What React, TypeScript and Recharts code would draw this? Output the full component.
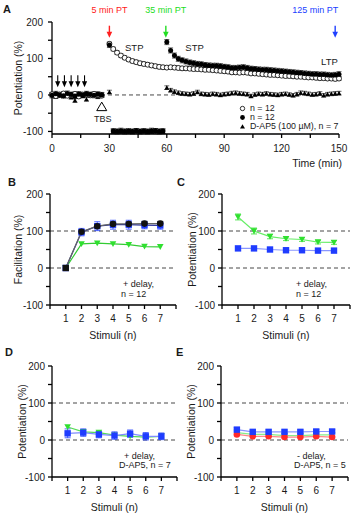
import React from 'react';
import {
  ComposedChart,
  Scatter,
  Line,
  XAxis,
  YAxis,
  ReferenceLine,
  ReferenceDot,
  ErrorBar,
  Legend,
} from 'recharts';

const FONT = '"Liberation Sans", Arial, Helvetica, sans-serif';
const INK = '#1a1a1a';

// ---------- Panel A: time course (min), one sweep every 2 min ----------
const baseTimes = [0, 2, 4, 6, 8, 10, 12, 14, 16, 18, 20, 22, 24, 26];
const postTimes = [
  30, 32, 34, 36, 38, 40, 42, 44, 46, 48, 50, 52, 54, 56, 58, 60, 62, 64, 66, 68,
  70, 72, 74, 76, 78, 80, 82, 84, 86, 88, 90, 92, 94, 96, 98, 100, 102, 104, 106, 108,
  110, 112, 114, 116, 118, 120, 122, 124, 126, 128, 130, 132, 134, 136, 138, 140, 142, 144, 146, 148,
  150,
];
const offTimes = [32, 34, 36, 38, 40, 42, 44, 46, 48, 50, 52, 54, 56, 58];
const lateTimes = [
  60, 62, 64, 66, 68, 70, 72, 74, 76, 78, 80, 82, 84, 86, 88, 90, 92, 94, 96, 98,
  100, 102, 104, 106, 108, 110, 112, 114, 116, 118, 120, 122, 124, 126, 128, 130, 132, 134, 136, 138,
  140, 142, 144, 146, 148, 150,
];

// open circles, n = 12
const openBase = [2, -3, 1, 4, -2, 0, 3, -4, 1, 2, -1, 3, 0, -2];
const openPost = [
  140, 126, 116, 108, 102, 97, 93, 90, 87, 85, 83, 81, 79, 77, 76, 75, 76, 75, 74, 73,
  73, 72, 71, 71, 70, 69, 69, 68, 67, 66, 65, 64, 62, 62, 61, 62, 61, 59, 59, 58,
  57, 56, 55, 55, 54, 53, 52, 52, 51, 50, 50, 49, 48, 48, 47, 46, 46, 45, 45, 44,
  45,
];
// filled circles, n = 12 (not stimulated during the delay)
const filledBase = [-1, 3, 0, -2, 4, 1, -3, 2, 0, 3, 1, -1, 2, 0];
const filledAt30 = 137;
const filledOff = [-99, -100, -98, -100, -99, -100, -99, -100, -99, -100, -98, -99, -100, -99];
const filledLate = [
  145, 122, 108, 99, 95, 92, 89, 87, 85, 84, 82, 81, 80, 80, 79, 77, 76, 74, 74, 75,
  76, 74, 72, 71, 70, 69, 69, 68, 67, 66, 65, 64, 63, 62, 61, 60, 59, 58, 57, 57,
  56, 56, 55, 54, 55, 57,
];
// D-AP5 (100 uM), n = 7
const ap5Base = [0, -4, 2, -2, 1, -6, -15, 3, -3, -12, 0, 2, -5, 1];
const ap5At30 = 8;
const ap5Off = [-100, -99, -100, -99, -100, -100, -97, -100, -99, -100, -100, -97, -99, -100];
const ap5Late = [
  20, 13, 9, 6, 4, 3, 2, 4, 8, 3, 2, 1, 3, 2, 0, 2, 3, 5, 6, 4,
  3, 2, -3, 1, 3, 2, 4, 2, 1, 0, 2, 3, 1, -1, 2, 6, 5, 3, 1, 2,
  4, -1, 2, 3, 4, 5,
];
const OPEN_SEM = 5;
const FILLED_SEM = 7;
const AP5_SEM = 5;

const stimArrowTimes = [3, 6.5, 10, 13.5, 17];
const ptTimes = [30, 59.5, 148];
const ptLabels = ['5 min PT', '35 min PT', '125 min PT'];
const ptColors = ['#ff2020', '#22dd22', '#2040ff'];
const legendLabels = ['n = 12', 'n = 12', 'D-AP5 (100 \u00b5M), n = 7'];

// ---------- Panels B-E: stimulus number ----------
const stimuli = [1, 2, 3, 4, 5, 6, 7];

const bGreen = [0, 65, 67, 65, 63, 58, 57];
const bBlue = [0, 97, 113, 117, 117, 116, 115];
const bBlueErr = [0, 10, 12, 12, 12, 10, 10];
const bBlack = [0, 98, 113, 119, 119, 120, 120];
const bBlackErr = [0, 6, 6, 6, 6, 6, 6];

const cGreen = [138, 100, 85, 79, 77, 70, 69];
const cGreenErr = [8, 8, 6, 5, 5, 5, 5];
const cBlue = [53, 53, 50, 48, 48, 47, 47];

const dGreen = [35, 22, 20, 13, 10, 8, 10];
const dBlue = [18, 20, 15, 12, 17, 10, 10];
const dBlueErr = [12, 10, 9, 10, 10, 10, 9];

const eBlue = [28, 22, 22, 22, 22, 23, 23];
const eBlueErr = [6, 5, 5, 5, 5, 5, 5];
const eGreen = [20, 15, 15, 12, 12, 14, 14];
const eRed = [15, 10, 10, 8, 8, 10, 8];

const yTicks = [-100, -50, 0, 50, 100, 150, 200];
const timeTicks = [0, 15, 30, 45, 60, 75, 90, 105, 120, 135, 150];
const stimTicks = [0, 1, 2, 3, 4, 5, 6, 7, 8];

const GREEN = '#2fe02f';
const BLUE = '#1f3cff';
const RED = '#ff2a2a';

const tickStyle = { fontSize: 10, fill: INK, fontFamily: FONT };
const axisLine = { stroke: '#000', strokeWidth: 1.3 };

const pts = (times: number[], vals: number[], sem: number) =>
  times.map((t, i) => ({ t, v: vals[i], e: sem }));

const openData = [...pts(baseTimes, openBase, OPEN_SEM), ...pts(postTimes, openPost, OPEN_SEM)];
const filledData = [
  ...pts(baseTimes, filledBase, FILLED_SEM),
  { t: 30, v: filledAt30, e: FILLED_SEM },
  ...pts(offTimes, filledOff, FILLED_SEM),
  ...pts(lateTimes, filledLate, FILLED_SEM),
];
const ap5Data = [
  ...pts(baseTimes, ap5Base, AP5_SEM),
  { t: 30, v: ap5At30, e: AP5_SEM },
  ...pts(offTimes, ap5Off, AP5_SEM),
  ...pts(lateTimes, ap5Late, AP5_SEM),
];

const hundreds = (v: number) => (v % 100 === 0 ? String(v) : '');

const yTitle = (text: string, dx: number) => (props: any) => {
  const vb = props.viewBox;
  const x = vb.x + vb.width - dx;
  const y = vb.y + vb.height / 2;
  return (
    <text x={x} y={y} transform={`rotate(-90 ${x} ${y})`} textAnchor="middle"
      dominantBaseline="central" fontSize={10.5} fill={INK} fontFamily={FONT}>
      {text}
    </text>
  );
};

const xTitle = (text: string, dy: number, anchor: 'middle' | 'end') => (props: any) => {
  const vb = props.viewBox;
  const x = anchor === 'end' ? vb.x + vb.width + 3 : vb.x + vb.width / 2;
  return (
    <text x={x} y={vb.y + dy} textAnchor={anchor} dominantBaseline="central"
      fontSize={10.5} fill={INK} fontFamily={FONT}>
      {text}
    </text>
  );
};

const openCircle = (p: any) => (
  <circle cx={p.cx} cy={p.cy} r={2.5} fill="#fff" stroke="#000" strokeWidth={0.8} />
);
const filledCircle = (p: any) => <circle cx={p.cx} cy={p.cy} r={2.5} fill="#000" />;
const triUp = (p: any) => (
  <path d={`M${p.cx - 2.4},${p.cy + 2}L${p.cx + 2.4},${p.cy + 2}L${p.cx},${p.cy - 2.4}Z`} fill="#000" />
);

const blackArrow = (p: any) => (
  <g>
    <line x1={p.cx} y1={p.cy - 12} x2={p.cx} y2={p.cy - 5} stroke="#000" strokeWidth={1.1} />
    <path d={`M${p.cx - 2.6},${p.cy - 6}L${p.cx + 2.6},${p.cy - 6}L${p.cx},${p.cy}Z`} fill="#000" />
  </g>
);

const ptArrow = (i: number) => (p: any) => {
  const color = ptColors[i];
  const end = i === ptTimes.length - 1;
  return (
    <g>
      <line x1={p.cx} y1={p.cy - 12} x2={p.cx} y2={p.cy - 5} stroke={color} strokeWidth={1.4} />
      <path d={`M${p.cx - 2.8},${p.cy - 6}L${p.cx + 2.8},${p.cy - 6}L${p.cx},${p.cy}Z`} fill={color} />
      <text x={end ? p.cx + 3 : p.cx} y={p.cy - 28} textAnchor={end ? 'end' : 'middle'}
        dominantBaseline="central" fill={color} fontSize={9} fontFamily={FONT}>
        {ptLabels[i]}
      </text>
    </g>
  );
};

const textMark = (text: string) => (p: any) => (
  <text x={p.cx} y={p.cy} textAnchor="middle" dominantBaseline="central" fontSize={9.5}
    fill={INK} fontFamily={FONT}>
    {text}
  </text>
);

const tbsMark = (p: any) => (
  <g>
    <path d={`M${p.cx - 5},${p.cy + 4}L${p.cx + 5},${p.cy + 4}L${p.cx},${p.cy - 4.5}Z`}
      fill="#fff" stroke="#000" strokeWidth={1} />
    <text x={p.cx + 1} y={p.cy + 12} textAnchor="middle" dominantBaseline="central" fontSize={9}
      fill={INK} fontFamily={FONT}>
      TBS
    </text>
  </g>
);

const legendMarkers = [
  <circle cx={3.5} cy={4.5} r={2.2} fill="#fff" stroke="#000" strokeWidth={0.8} />,
  <circle cx={3.5} cy={4.5} r={2.4} fill="#000" />,
  <path d="M1,6.6L6,6.6L3.5,2.2Z" fill="#000" />,
];

const TimeLegend = () => (
  <div style={{ fontFamily: FONT, fontSize: 8.8, color: INK, lineHeight: '9px' }}>
    {legendLabels.map((label, i) => (
      <div key={i} style={{ display: 'flex', alignItems: 'center', height: 9, whiteSpace: 'nowrap' }}>
        <svg width={8} height={9} style={{ marginRight: 3 }}>{legendMarkers[i]}</svg>
        {label}
      </div>
    ))}
  </div>
);

const TimeCourse = () => (
  <div style={{ position: 'absolute', left: 0, top: 0 }}>
    <ComposedChart width={355} height={175} margin={{ top: 22, right: 16, bottom: 16, left: 12 }}>
      <XAxis type="number" dataKey="t" domain={[0, 150]} ticks={timeTicks} tickFormatter={(v: number) => (v % 30 === 0 ? String(v) : '')}
        tick={tickStyle} tickSize={4} tickMargin={7} axisLine={axisLine} tickLine={axisLine} height={25}
        label={xTitle('Time (min)', 29, 'end')} />
      <YAxis type="number" domain={[-100, 200]} ticks={yTicks} tickFormatter={hundreds} width={40}
        tick={tickStyle} tickSize={4} tickMargin={5} axisLine={axisLine} tickLine={axisLine}
        label={yTitle('Potentiation (%)', 34)} />
      <ReferenceLine y={0} stroke="#333" strokeDasharray="4 3" strokeWidth={0.9} />
      <Scatter data={ap5Data} dataKey="v" shape={triUp} isAnimationActive={false}>
        <ErrorBar dataKey="e" direction="y" width={2.5} stroke="#000" strokeWidth={0.6} />
      </Scatter>
      <Scatter data={openData} dataKey="v" shape={openCircle} isAnimationActive={false}>
        <ErrorBar dataKey="e" direction="y" width={2.5} stroke="#000" strokeWidth={0.6} />
      </Scatter>
      <Scatter data={filledData} dataKey="v" shape={filledCircle} isAnimationActive={false}>
        <ErrorBar dataKey="e" direction="y" width={2.5} stroke="#000" strokeWidth={0.6} />
      </Scatter>
      {stimArrowTimes.map((t) => (
        <ReferenceDot key={t} x={t} y={21} r={0} shape={blackArrow} />
      ))}
      {ptTimes.map((t, i) => (
        <ReferenceDot key={t} x={t} y={157} r={0} shape={ptArrow(i)} />
      ))}
      <ReferenceDot x={43} y={131} r={0} shape={textMark('STP')} />
      <ReferenceDot x={74.5} y={131} r={0} shape={textMark('STP')} />
      <ReferenceDot x={145} y={91} r={0} shape={textMark('LTP')} />
      <ReferenceDot x={26} y={-32} r={0} shape={tbsMark} />
      <Legend layout="vertical" align="center" verticalAlign="middle" content={() => <TimeLegend />}
        wrapperStyle={{ left: 239, top: 103.5, width: 'auto' }} />
    </ComposedChart>
  </div>
);

type MarkerKind = 'triDown' | 'square' | 'circle';

interface SeriesDef {
  key: string;
  values: number[];
  errors?: number[];
  fill: string;
  line: string;
  marker: MarkerKind;
  firstMarker?: MarkerKind;
}

const drawMarker = (kind: MarkerKind, color: string, cx: number, cy: number, key: number) => {
  if (kind === 'triDown')
    return <path key={key} d={`M${cx - 3.3},${cy - 2.8}L${cx + 3.3},${cy - 2.8}L${cx},${cy + 3}Z`} fill={color} />;
  if (kind === 'square')
    return <rect key={key} x={cx - 3.2} y={cy - 3.2} width={6.4} height={6.4} fill={color} />;
  return <circle key={key} cx={cx} cy={cy} r={3.3} fill={color} />;
};

interface StimPanelProps {
  left: number;
  top: number;
  height: number;
  margin: { top: number; right: number; bottom: number; left: number };
  yLabel: string;
  titleDx: number;
  series: SeriesDef[];
}

const StimPanel = ({ left, top, height, margin, yLabel, titleDx, series }: StimPanelProps) => {
  const rows = stimuli.map((n, i) => {
    const row: Record<string, number> = { n };
    series.forEach((s) => {
      row[s.key] = s.values[i];
      if (s.errors) row[s.key + 'Err'] = s.errors[i];
    });
    return row;
  });
  return (
    <div style={{ position: 'absolute', left, top }}>
      <ComposedChart width={180} height={height} data={rows} margin={margin}>
        <XAxis type="number" dataKey="n" domain={[0, 8]} ticks={stimTicks}
          tickFormatter={(v: number) => (v >= 1 && v <= 7 ? String(v) : '')}
          tick={tickStyle} tickSize={4} tickMargin={6} axisLine={axisLine} tickLine={axisLine} height={34}
          label={xTitle('Stimuli (n)', 30, 'middle')} />
        <YAxis type="number" domain={[-100, 200]} ticks={yTicks} tickFormatter={hundreds} width={38}
          tick={tickStyle} tickSize={4} tickMargin={3} axisLine={axisLine} tickLine={axisLine}
          label={yTitle(yLabel, titleDx)} />
        <ReferenceLine y={0} stroke="#333" strokeDasharray="4 3" strokeWidth={0.9} />
        <ReferenceLine y={100} stroke="#333" strokeDasharray="4 3" strokeWidth={0.9} />
        {series.map((s) => (
          <Line key={s.key} type="linear" dataKey={s.key} stroke={s.line} strokeWidth={1.2}
            isAnimationActive={false} activeDot={false}
            dot={(p: any) =>
              drawMarker(p.index === 0 && s.firstMarker ? s.firstMarker : s.marker, s.fill, p.cx, p.cy, p.index)
            }>
            {s.errors && (
              <ErrorBar dataKey={s.key + 'Err'} direction="y" width={3} stroke={s.fill} strokeWidth={0.8} />
            )}
          </Line>
        ))}
      </ComposedChart>
    </div>
  );
};

const bSeries: SeriesDef[] = [
  { key: 'green', values: bGreen, fill: GREEN, line: '#33cc33', marker: 'triDown' },
  { key: 'blue', values: bBlue, errors: bBlueErr, fill: BLUE, line: '#222a99', marker: 'square' },
  { key: 'black', values: bBlack, errors: bBlackErr, fill: '#111', line: '#666', marker: 'circle', firstMarker: 'square' },
];
const cSeries: SeriesDef[] = [
  { key: 'green', values: cGreen, errors: cGreenErr, fill: GREEN, line: '#66ee66', marker: 'triDown' },
  { key: 'blue', values: cBlue, fill: BLUE, line: '#8a96ff', marker: 'square' },
];
const dSeries: SeriesDef[] = [
  { key: 'green', values: dGreen, fill: GREEN, line: '#55dd55', marker: 'triDown' },
  { key: 'blue', values: dBlue, errors: dBlueErr, fill: BLUE, line: '#7f8cff', marker: 'square' },
];
const eSeries: SeriesDef[] = [
  { key: 'green', values: eGreen, fill: GREEN, line: '#88ee88', marker: 'triDown' },
  { key: 'red', values: eRed, fill: RED, line: '#ff8888', marker: 'circle' },
  { key: 'blue', values: eBlue, errors: eBlueErr, fill: BLUE, line: '#8a96ff', marker: 'square' },
];

const Tag = ({ x, y, text, size = 9, bold = false }: { x: number; y: number; text: string; size?: number; bold?: boolean }) => (
  <div style={{
    position: 'absolute', left: x, top: y - size * 0.5, fontSize: size, lineHeight: `${size}px`,
    fontWeight: bold ? 700 : 400, whiteSpace: 'nowrap', fontFamily: FONT, color: INK,
  }}>
    {text}
  </div>
);

export default function App() {
  return (
    <div style={{ position: 'absolute', left: 0, top: 0, width: 355, height: 518, background: '#fff', overflow: 'hidden' }}>
      <TimeCourse />
      <StimPanel left={0} top={170} height={175} margin={{ top: 24, right: 4, bottom: 6, left: 12 }}
        yLabel="Facilitation (%)" titleDx={32} series={bSeries} />
      <StimPanel left={175} top={170} height={175} margin={{ top: 24, right: 5, bottom: 6, left: 9 }}
        yLabel="Potentiation (%)" titleDx={30} series={cSeries} />
      <StimPanel left={0} top={345} height={173} margin={{ top: 21, right: 3, bottom: 7, left: 14 }}
        yLabel="Potentiation (%)" titleDx={30} series={dSeries} />
      <StimPanel left={175} top={345} height={173} margin={{ top: 21, right: 7, bottom: 7, left: 8 }}
        yLabel="Potentiation (%)" titleDx={30} series={eSeries} />

      <Tag x={3} y={9} text="A" size={11} bold />
      <Tag x={8} y={182} text="B" size={11} bold />
      <Tag x={177} y={182} text="C" size={11} bold />
      <Tag x={5} y={352} text="D" size={11} bold />
      <Tag x={176} y={352} text="E" size={11} bold />

      <Tag x={123} y={284} text="+ delay," />
      <Tag x={121} y={294} text="n = 12" />
      <Tag x={296} y={284} text="+ delay," />
      <Tag x={296} y={294} text="n = 12" />
      <Tag x={124} y={456} text="+ delay," />
      <Tag x={119} y={465.5} text="D-AP5, n = 7" />
      <Tag x={297} y={456} text="- delay," />
      <Tag x={294} y={465.5} text="D-AP5, n = 5" />
    </div>
  );
}
